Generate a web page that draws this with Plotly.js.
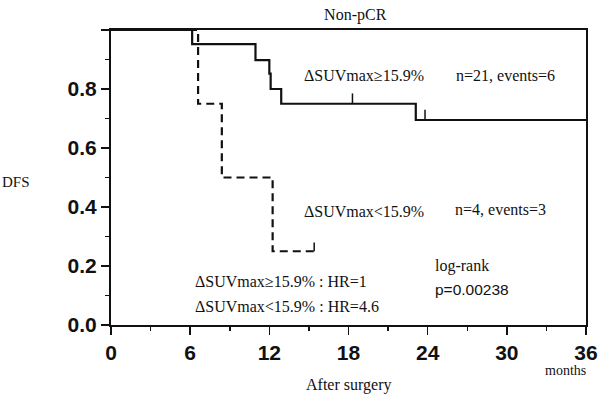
<!DOCTYPE html>
<html>
<head>
<meta charset="utf-8">
<script src="https://cdn.plot.ly/plotly-3.0.1.min.js"></script>
<style>html,body{margin:0;padding:0;background:#fff;}#chart{width:600px;height:400px;}</style>
</head>
<body>
<div id="chart"></div>
<script>
// Kaplan-Meier step data (time in months, survival after the event)
const highTimes = [0, 6.15, 10.95, 12.0, 12.1, 12.9, 23.1, 36];
const highSurv  = [1, 0.952, 0.898, 0.852, 0.800, 0.750, 0.695, 0.695];
const lowTimes  = [0, 6.6, 8.4, 12.25, 15.4];
const lowSurv   = [1, 0.75, 0.50, 0.25, 0.25];
// censored observations
const highCensorT = [18.3, 23.8];
const highCensorS = [0.750, 0.695];
const lowCensorT  = [15.4];
const lowCensorS  = [0.25];
const xTicks = [0, 6, 12, 18, 24, 30, 36];
const yTicks = [0, 0.2, 0.4, 0.6, 0.8, 1.0];
const yTickText = ['0.0', '0.2', '0.4', '0.6', '0.8', ''];

function censorSegs(ts, ss, h) {
  const x = [], y = [];
  ts.forEach((t, i) => { x.push(t, t, null); y.push(ss[i], ss[i] + h, null); });
  return {x, y};
}
const hc = censorSegs(highCensorT, highCensorS, 0.035);
const lc = censorSegs(lowCensorT, lowCensorS, 0.03);
const ink = '#111';

const traces = [
  {x: highTimes, y: highSurv, mode: 'lines', line: {shape: 'hv', color: ink, width: 2.2}, name: 'ΔSUVmax≥15.9%', showlegend: false, hoverinfo: 'skip'},
  {x: lowTimes, y: lowSurv, mode: 'lines', line: {shape: 'hv', color: ink, width: 2.2, dash: '8px,5px'}, name: 'ΔSUVmax<15.9%', showlegend: false, hoverinfo: 'skip'},
  {x: hc.x, y: hc.y, mode: 'lines', line: {color: ink, width: 1.5}, showlegend: false, hoverinfo: 'skip'},
  {x: lc.x, y: lc.y, mode: 'lines', line: {color: ink, width: 1.5}, showlegend: false, hoverinfo: 'skip'}
];

const serif = 'Liberation Serif, Times New Roman, serif';
const sans = 'Liberation Sans, Arial, sans-serif';
function ann(text, x, y, size, family, xanchor) {
  return {text, x, y, xref: 'x', yref: 'y', xanchor: xanchor || 'left', yanchor: 'middle', showarrow: false,
          font: {family: family || serif, size: size || 16, color: ink}};
}

const layout = {
  width: 600, height: 400,
  margin: {l: 111, r: 14, t: 30, b: 75},
  paper_bgcolor: '#fff', plot_bgcolor: '#fff',
  title: {text: 'Non-pCR', x: 0.592, xref: 'container', xanchor: 'center', y: 0.965, yref: 'container', yanchor: 'middle',
          font: {family: serif, size: 16, color: ink}},
  xaxis: {range: [0, 36], tickvals: xTicks, ticktext: xTicks.map(String), showgrid: false, zeroline: false,
          showline: true, mirror: true, linecolor: ink, linewidth: 2,
          ticks: 'outside', ticklen: 8, tickwidth: 1.5, tickcolor: ink,
          minor: {dtick: 3, tick0: 0, ticks: 'outside', ticklen: 4, tickwidth: 1.5, tickcolor: ink, showgrid: false},
          tickfont: {family: sans, size: 21, color: ink, weight: 'bold'}},
  yaxis: {range: [0, 1], tickvals: yTicks, ticktext: yTickText, showgrid: false, zeroline: false,
          showline: true, mirror: true, linecolor: ink, linewidth: 2,
          ticks: 'outside', ticklen: 8, tickwidth: 1.5, tickcolor: ink,
          minor: {dtick: 0.1, tick0: 0, ticks: 'outside', ticklen: 4, tickwidth: 1.5, tickcolor: ink, showgrid: false},
          tickfont: {family: sans, size: 21, color: ink, weight: 'bold'}},
  annotations: [
    ann('ΔSUVmax≥15.9%', 14.48, 0.847),
    ann('n=21, events=6', 26.0, 0.847),
    ann('ΔSUVmax<15.9%', 14.48, 0.386),
    ann('n=4, events=3', 25.93, 0.393),
    ann('ΔSUVmax≥15.9% : HR=1', 6.22, 0.149),
    ann('ΔSUVmax<15.9% : HR=4.6', 6.22, 0.064),
    ann('log-rank', 24.4, 0.20),
    ann('p=0.00238', 24.4, 0.122, 15.5, sans),
    {text: 'DFS', xref: 'paper', yref: 'y', x: -0.2337, y: 0.485, xanchor: 'left', yanchor: 'middle', showarrow: false,
     font: {family: serif, size: 15, color: ink}},
    {text: 'months', xref: 'paper', yref: 'paper', x: 0.909, y: -0.153, xanchor: 'left', yanchor: 'middle', showarrow: false,
     font: {family: serif, size: 14, color: ink}},
    {text: 'After surgery', xref: 'paper', yref: 'paper', x: 0.499, y: -0.203, xanchor: 'center', yanchor: 'middle', showarrow: false,
     font: {family: serif, size: 16, color: ink}}
  ]
};

Plotly.newPlot('chart', traces, layout, {staticPlot: true, displayModeBar: false});
</script>
</body>
</html>
